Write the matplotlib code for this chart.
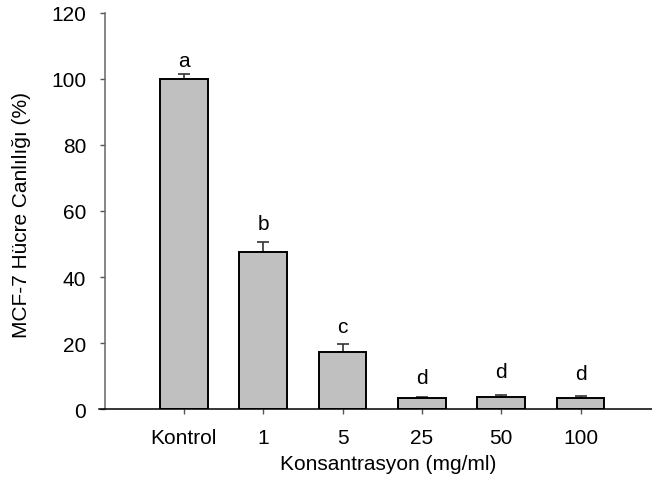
import matplotlib
matplotlib.use("Agg")
import matplotlib.pyplot as plt

categories = ["Kontrol", "1", "5", "25", "50", "100"]
values = [100.0, 47.5, 17.2, 3.3, 3.7, 3.4]
errors = [1.4, 3.0, 2.4, 0.4, 0.6, 0.6]
letters = ["a", "b", "c", "d", "d", "d"]
letter_y = [104.0, 54.5, 23.3, 7.9, 9.7, 9.1]
yticks = [0, 20, 40, 60, 80, 100, 120]

plt.rcParams['font.family'] = ['Liberation Sans', 'DejaVu Sans']

W, H = 652, 481
x0, x1, ytop, ybot = 104.5, 652, 14, 410
fig = plt.figure(figsize=(W/100, H/100), dpi=100)
ax = fig.add_axes([x0/W, 1-ybot/H, (x1-x0)/W, (ybot-ytop)/H])

x = list(range(len(categories)))
ax.bar(x, values, width=0.60, color='#c0c0c0', edgecolor='black', linewidth=1.4, zorder=2)
ax.errorbar(x, values, yerr=[[0]*len(errors), errors], fmt='none', ecolor='#333333',
            elinewidth=1.2, capsize=4.3, capthick=1.2, zorder=1)
for xi, l, ly in zip(x, letters, letter_y):
    ax.text(xi, ly, l, ha='center', va='baseline', fontsize=15)

ax.set_xlim(-1.0, 5.9)
ax.set_ylim(0, 120)
ax.set_xticks(x)
ax.set_xticklabels(categories, fontsize=15)
ax.set_yticks(yticks)
ax.set_yticklabels([str(t) for t in yticks], fontsize=15)
ax.spines['top'].set_visible(False)
ax.spines['right'].set_visible(False)
ax.spines['left'].set_color('#666666')
ax.spines['left'].set_linewidth(1.1)
ax.spines['bottom'].set_color('black')
ax.spines['bottom'].set_linewidth(1.1)
ax.spines['bottom'].set_bounds(-1.07, 5.9)
ax.tick_params(axis='y', length=3.6, width=1, color='#555555', pad=9.5)
ax.tick_params(axis='x', length=3.6, width=1, color='#555555', pad=10)
ax.set_ylabel("MCF-7 Hücre Canlılığı (%)", fontsize=15)
ax.yaxis.set_label_coords((22-x0)/(x1-x0), (ybot-215)/(ybot-ytop))
ax.set_xlabel("Konsantrasyon (mg/ml)", fontsize=15)
ax.xaxis.set_label_coords((388-x0)/(x1-x0), (ybot-465)/(ybot-ytop))
ax.xaxis.label.set_va('center')
ax.yaxis.label.set_va('center')

fig.savefig("out.png", dpi=100)
